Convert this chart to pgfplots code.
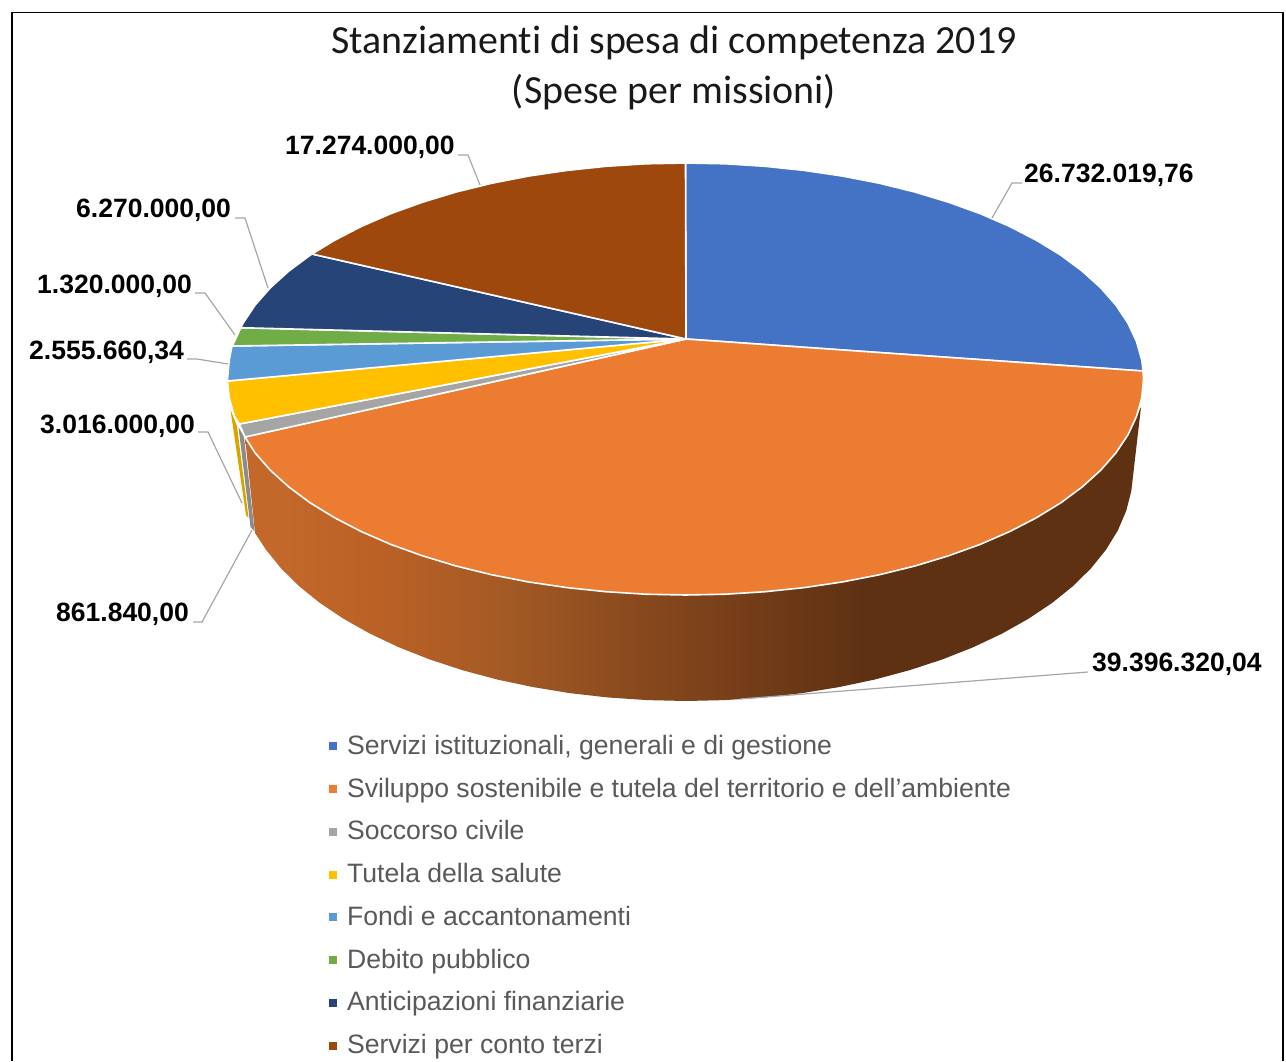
\documentclass[border=0pt]{standalone}
\usepackage{pgfplots}
\pgfplotsset{compat=1.18}
\usepackage{fontspec}
\setmainfont{Liberation Sans}
\newfontfamily\titlefont[Ligatures=NoCommon]{Carlito}
\definecolor{cBlue}{HTML}{4472C4}
\definecolor{cOrange}{HTML}{EC7C31}
\definecolor{cGray}{HTML}{A5A5A5}
\definecolor{cYellow}{HTML}{FFC000}
\definecolor{cLtBlue}{HTML}{5B9BD5}
\definecolor{cGreen}{HTML}{70AD47}
\definecolor{cNavy}{HTML}{264478}
\definecolor{cBrown}{HTML}{9E480E}
\definecolor{cLeader}{HTML}{A6A6A6}
\definecolor{cLegend}{HTML}{595959}
\definecolor{sideA}{HTML}{C2682B}
\definecolor{sideB}{HTML}{BB6125}
\definecolor{sideC}{HTML}{A35A25}
\definecolor{sideD}{HTML}{88481D}
\definecolor{sideE}{HTML}{5E3113}
\pgfdeclarehorizontalshading{sidegrad}{100bp}{
 color(0bp)=(sideA); color(27.2bp)=(sideA); color(32.2bp)=(sideB); color(39.7bp)=(sideC); color(47.2bp)=(sideD); color(59.6bp)=(sideE); color(100bp)=(sideE)}
\begin{document}
\begin{tikzpicture}
\useasboundingbox (0,0) rectangle (1286pt,1061pt);
\begin{axis}[
  at={(0,0)}, anchor=south west,
  scale only axis, width=1286pt, height=1061pt,
  xmin=0, xmax=1286, ymin=0, ymax=1061, y dir=reverse,
  axis lines=none, clip=false,
  legend cell align=left,
  legend image code/.code={\path[#1,draw=none] (0pt,4pt) rectangle (8pt,12pt); \path (0pt,0pt) -- (17pt,0pt);},
  legend style={draw=none, fill=none, at={(axis cs:328.5,1060.5)}, anchor=south west,
    inner sep=0pt, outer sep=0pt, row sep=16.72pt,
    font=\fontsize{26.6}{26.6}\selectfont, text=cLegend,
    nodes={inner sep=0pt, text height=19pt, text depth=7pt, anchor=base west}},
]
% frame
\addplot[forget plot, black, line width=1.8pt] coordinates {(12,1061) (12,12.5) (1283,12.5) (1283,1061)};
% side faces
\addplot[forget plot, draw=none, shading=sidegrad, shading angle=0] coordinates {
(245,437)(250.1,446)(255.1,452.9)(270.4,470.3)(288.9,487)(310.3,502.9)(334.7,517.8)(361.6,531.7)(391.1,544.5)(422.8,555.9)(456.5,566.1)(491.9,574.8)(528.9,582)(567,587.6)(606,591.7)(645.6,594.2)(685.5,595)(725.4,594.2)(765,591.7)(804,587.6)(842.1,582)(879.1,574.8)(914.5,566.1)(948.2,555.9)(979.9,544.5)(1009.4,531.7)(1036.3,517.8)(1060.7,502.9)(1082.1,487)(1100.6,470.3)(1115.9,452.9)(1127.9,434.9)(1136.5,416.5)(1141,407)(1131.3,491)(1126.2,510.9)(1117.8,530.5)(1106,549.7)(1091.1,568.2)(1073.1,586)(1052.2,602.9)(1028.4,618.8)(1002.1,633.6)(973.3,647.2)(942.4,659.4)(909.5,670.2)(874.9,679.5)(838.9,687.1)(801.7,693.2)(763.6,697.5)(725,700.1)(686,701)(647,700.1)(608.4,697.5)(570.3,693.2)(533.1,687.1)(497.1,679.5)(462.5,670.2)(429.6,659.4)(398.7,647.2)(369.9,633.6)(343.6,618.8)(319.8,602.9)(298.9,586)(280.9,568.2)(266,549.7)(255,533)(245,437)};
\addplot[forget plot, draw=none, fill=cGray!85!black] coordinates {(238.5,427)(244,437)(254.5,531)(250.5,527)(238.5,427)};
\addplot[forget plot, draw=none, fill=cYellow!85!black] coordinates {(230.5,410)(237,426)(248.5,518)(246,515)(230.5,410)};
% top faces
\pgfplotsset{slice/.style={draw=white, line width=1.6pt, line join=round, fill=#1}}
\addplot[slice=cBlue] coordinates {(686,339)(685.5,163)(725.4,163.8)(765,166.3)(804,170.4)(842.1,176)(879.1,183.2)(914.5,191.9)(948.2,202.1)(979.9,213.5)(1009.4,226.3)(1036.3,240.2)(1060.7,255.1)(1082.1,271)(1100.6,287.7)(1115.9,305.1)(1127.9,323.1)(1136.5,341.5)(1141.8,360.2)(1143,371)(686,339)};
\addplot[slice=cOrange] coordinates {(686,339)(1143,371)(1143.5,379)(1141.8,397.8)(1136.5,416.5)(1127.9,434.9)(1115.9,452.9)(1100.6,470.3)(1082.1,487)(1060.7,502.9)(1036.3,517.8)(1009.4,531.7)(979.9,544.5)(948.2,555.9)(914.5,566.1)(879.1,574.8)(842.1,582)(804,587.6)(765,591.7)(725.4,594.2)(685.5,595)(645.6,594.2)(606,591.7)(567,587.6)(528.9,582)(491.9,574.8)(456.5,566.1)(422.8,555.9)(391.1,544.5)(361.6,531.7)(334.7,517.8)(310.3,502.9)(288.9,487)(270.4,470.3)(255.1,452.9)(245,437)(686,339)};
\addplot[slice=cGray] coordinates {(686,339)(245,437)(239.3,424)(686,339)};
\addplot[slice=cYellow] coordinates {(686,339)(239.3,424)(234.5,416.5)(229.2,397.8)(227.5,381)(686,339)};
\addplot[slice=cLtBlue] coordinates {(686,339)(227.5,381)(227.5,379)(229.2,360.2)(232,346)(686,339)};
\addplot[slice=cGreen] coordinates {(686,339)(232,346)(234.5,341.5)(240.7,327.7)(686,339)};
\addplot[slice=cNavy] coordinates {(686,339)(240.7,327.7)(243.1,323.1)(255.1,305.1)(270.4,287.7)(288.9,271)(310.3,255.1)(312,254)(686,339)};
\addplot[slice=cBrown] coordinates {(686,339)(312,254)(334.7,240.2)(361.6,226.3)(391.1,213.5)(422.8,202.1)(456.5,191.9)(491.9,183.2)(528.9,176)(567,170.4)(606,166.3)(645.6,163.8)(685.5,163)(686,339)};
% leaders
\pgfplotsset{leader/.style={forget plot, cLeader, line width=1.2pt}}
\addplot[leader] coordinates {(1022,183)(1012,183)(992,218)};
\addplot[leader] coordinates {(1088,672)(740,699)};
\addplot[leader] coordinates {(458,155)(468,155)(480,185)};
\addplot[leader] coordinates {(235,218)(245,218)(268,288)};
\addplot[leader] coordinates {(195,293)(205,293)(235,335)};
\addplot[leader] coordinates {(187,359)(197,359)(228,364)};
\addplot[leader] coordinates {(198,432)(208,432)(242,503)};
\addplot[leader] coordinates {(193,622)(202,622)(252,530)};
% titles and labels
\node[inner sep=0pt, font=\titlefont\fontsize{39.9}{40}\selectfont, text=black!90] at (axis cs:674,43) {Stanziamenti di spesa di competenza 2019};
\node[inner sep=0pt, font=\titlefont\fontsize{39.9}{40}\selectfont, text=black!90] at (axis cs:674,92) {(Spese per missioni)};
\tikzset{dl/.style={inner sep=0pt, anchor=base west, font=\bfseries\fontsize{26.5}{27}\selectfont, text=black}}
\node[dl] at (axis cs:1024,182) {26.732.019,76};
\node[dl] at (axis cs:1092,671) {39.396.320,04};
\node[dl] at (axis cs:285,154) {17.274.000,00};
\node[dl] at (axis cs:76,217) {6.270.000,00};
\node[dl] at (axis cs:37,293) {1.320.000,00};
\node[dl] at (axis cs:29,359) {2.555.660,34};
\node[dl] at (axis cs:40,433) {3.016.000,00};
\node[dl] at (axis cs:56,621) {861.840,00};
\legend{{Servizi istituzionali, generali e di gestione},{Sviluppo sostenibile e tutela del territorio e dell’ambiente},{Soccorso civile},{Tutela della salute},{Fondi e accantonamenti},{Debito pubblico},{Anticipazioni finanziarie},{Servizi per conto terzi}}
\end{axis}
\end{tikzpicture}
\end{document}
